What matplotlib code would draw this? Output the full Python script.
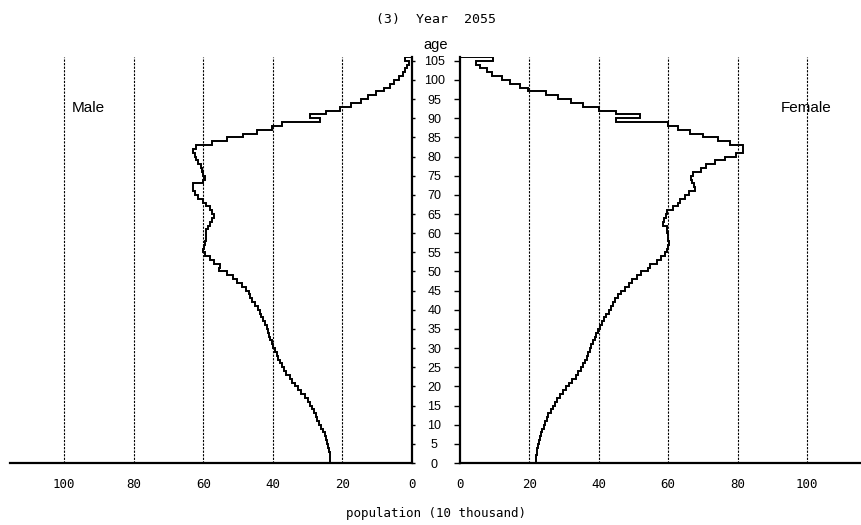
import numpy as np
import matplotlib
matplotlib.use("Agg")
import matplotlib.pyplot as plt

# Population by single year of age (0 .. 105+), unit: 10 thousand persons
ages = np.arange(0, 106)

male = [
    23.5, 23.6, 23.7, 23.9, 24.2, 24.5, 24.8, 25.0, 25.5, 26.1,   # 0-9
    26.7, 27.2, 27.6, 28.2, 28.8, 29.4, 30.0, 30.8, 31.9, 32.7,   # 10-19
    33.6, 34.4, 35.1, 36.1, 36.8, 37.5, 38.0, 38.5, 38.9, 39.5,   # 20-29
    40.1, 40.4, 40.7, 41.0, 41.4, 41.8, 42.3, 42.8, 43.3, 43.8,   # 30-39
    44.4, 45.2, 46.0, 46.5, 47.0, 47.8, 49.0, 50.3, 51.4, 53.2,   # 40-49
    55.6, 55.2, 57.0, 58.0, 59.4, 60.0, 59.8, 59.6, 59.3, 59.1,   # 50-59
    59.1, 58.6, 58.1, 57.6, 56.9, 57.6, 58.1, 59.1, 60.2, 61.5,   # 60-69
    62.4, 63.1, 63.1, 60.1, 59.6, 60.1, 60.5, 60.8, 61.5, 62.0,   # 70-79
    62.4, 63.1, 62.0, 57.5, 53.3, 48.7, 44.5, 40.2, 37.3, 26.5,   # 80-89
    29.4, 24.6, 20.8, 17.6, 14.8, 12.6, 10.4, 8.1, 6.4, 5.1,      # 90-99
    3.7, 2.7, 1.9, 1.5, 0.9, 1.9,                                 # 100-105+
]

female = [
    21.9, 22.0, 22.1, 22.3, 22.4, 22.7, 23.0, 23.3, 23.7, 24.1,   # 0-9
    24.6, 25.0, 25.5, 26.1, 26.7, 27.3, 28.0, 28.8, 29.6, 30.5,   # 10-19
    31.5, 32.4, 33.3, 34.0, 34.8, 35.5, 36.0, 36.5, 36.9, 37.4,   # 20-29
    37.9, 38.4, 38.8, 39.3, 39.8, 40.3, 40.9, 41.4, 42.2, 42.9,   # 30-39
    43.5, 44.1, 44.6, 45.6, 46.5, 47.5, 48.7, 49.7, 51.0, 52.3,   # 40-49
    54.2, 54.7, 56.8, 58.0, 59.0, 59.7, 60.0, 60.2, 60.1, 60.0,   # 50-59
    59.7, 59.7, 58.5, 58.7, 59.3, 59.7, 61.3, 62.8, 63.5, 65.0,   # 60-69
    66.0, 67.8, 67.5, 66.8, 66.7, 67.1, 69.5, 70.8, 73.4, 76.3,   # 70-79
    79.6, 81.5, 81.5, 77.7, 74.3, 70.0, 66.2, 62.8, 59.9, 44.9,   # 80-89
    52.0, 45.0, 40.1, 35.5, 31.9, 28.3, 24.7, 19.7, 17.3, 14.4,   # 90-99
    12.0, 9.1, 7.7, 5.8, 4.5, 9.4,                                # 100-105+
]

age_ticks = list(range(0, 106, 5))
pop_ticks = [0, 20, 40, 60, 80, 100]

title_text = "(3)  Year  2055"
xlabel_text = "population (10 thousand)"

W, H = 861, 525
fig = plt.figure(figsize=(W / 100, H / 100), dpi=100)

def fx(px):
    return px / W

def fy(py):
    return 1 - py / H

axes_bottom = fy(463)
axes_height = (463 - 57) / H
XMAX = 115.6

ax_m = fig.add_axes([fx(10), axes_bottom, fx(412 - 10), axes_height])
ax_f = fig.add_axes([fx(460), axes_bottom, fx(861 - 460), axes_height])

edges = np.arange(0, 107)
mono = "DejaVu Sans Mono"
sans = "Liberation Sans"

for ax, vals in ((ax_m, male), (ax_f, female)):
    ax.stairs(vals, edges, orientation="horizontal", baseline=0,
              color="black", lw=1.4, zorder=3)
    ax.set_ylim(0, 106)
    for t in pop_ticks[1:]:
        ax.axvline(t, color="black", lw=0.8, ls=(0, (2.0, 1.2)), zorder=1)
    ax.set_xticks(pop_ticks)
    ax.set_xticklabels([str(t) for t in pop_ticks], fontfamily=mono, fontsize=9)
    ax.tick_params(axis="x", length=0, pad=11)
    for s in ("top",):
        ax.spines[s].set_visible(False)
    ax.spines["bottom"].set_linewidth(1.6)

# Male panel: population grows to the left, age axis on the right edge
ax_m.set_xlim(XMAX, 0)
ax_m.spines["left"].set_visible(False)
ax_m.spines["right"].set_linewidth(1.6)
ax_m.yaxis.tick_right()
ax_m.set_yticks(age_ticks)
ax_m.tick_params(axis="y", direction="out", length=2.5, width=1.0,
                 labelright=False)

# Female panel: age axis on the left edge carries the age labels
ax_f.set_xlim(0, XMAX)
ax_f.spines["right"].set_visible(False)
ax_f.spines["left"].set_linewidth(1.6)
ax_f.set_yticks(age_ticks)
ax_f.set_yticklabels([str(a) for a in age_ticks], fontfamily=sans, fontsize=9)
ax_f.tick_params(axis="y", direction="out", length=4.5, width=1.0, pad=14)
for lab in ax_f.get_yticklabels():
    lab.set_horizontalalignment("center")

fig.text(fx(436), fy(20), title_text, ha="center", va="center",
         fontfamily=mono, fontsize=9.5)
fig.text(fx(436), fy(45), "age", ha="center", va="center",
         fontfamily=sans, fontsize=10.5)
fig.text(fx(436), fy(514), xlabel_text, ha="center", va="center",
         fontfamily=mono, fontsize=9)
fig.text(fx(88), fy(108), "Male", ha="center", va="center",
         fontfamily=sans, fontsize=11)
fig.text(fx(806), fy(108), "Female", ha="center", va="center",
         fontfamily=sans, fontsize=11)

fig.savefig("out.png", dpi=100, facecolor="white")
